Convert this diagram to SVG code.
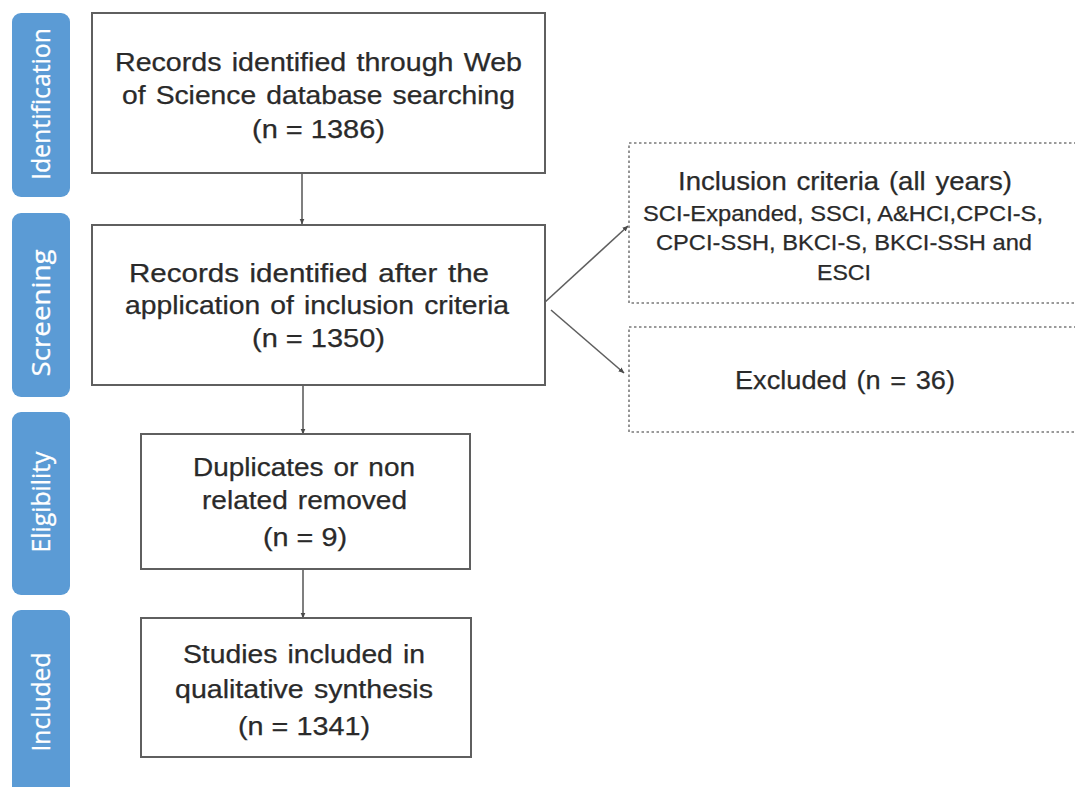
<svg xmlns="http://www.w3.org/2000/svg" width="1075" height="787" viewBox="0 0 1075 787">
  <defs>
    <style>
      .tab { fill: #5b9bd5; }
      .tab-label { font-family: "Open Sans", "Liberation Sans", sans-serif; font-size: 25px; fill: #ffffff; stroke: #ffffff; stroke-width: 0.3; text-anchor: middle; }
      .box { fill: #ffffff; stroke: #5f5f5f; stroke-width: 2; }
      .dbox { fill: #ffffff; stroke: #7a7a7a; stroke-width: 1.6; stroke-dasharray: 2.5 2.5; }
      .t { font-family: "Liberation Sans", Arial, sans-serif; font-size: 25px; fill: #2a2a2a; stroke: #2a2a2a; stroke-width: 0.25; }
      .tw { word-spacing: 2px; }
      .ts { font-size: 22px; }
      .link { fill: none; stroke: #5f5f5f; stroke-width: 1.6; }
    </style>
    <marker id="head" viewBox="0 0 6 6" refX="5.5" refY="3" markerWidth="6" markerHeight="6" markerUnits="userSpaceOnUse" orient="auto">
      <path d="M0,0.5 L6,3 L0,5.5 Z" fill="#4a4a4a"/>
    </marker>
  </defs>

  <rect width="1075" height="787" fill="#ffffff"/>

  <!-- phase tabs -->
  <g id="phase-identification">
    <rect class="tab" x="12" y="13" width="58" height="184" rx="9"/>
    <text class="tab-label" transform="translate(50,104) rotate(-90)" textLength="152" lengthAdjust="spacingAndGlyphs">Identification</text>
  </g>
  <g id="phase-screening">
    <rect class="tab" x="12" y="213" width="58" height="184" rx="9"/>
    <text class="tab-label" transform="translate(50,313) rotate(-90)" textLength="127" lengthAdjust="spacingAndGlyphs">Screening</text>
  </g>
  <g id="phase-eligibility">
    <rect class="tab" x="12" y="412" width="58" height="183" rx="9"/>
    <text class="tab-label" transform="translate(50,502) rotate(-90)" textLength="101" lengthAdjust="spacingAndGlyphs">Eligibility</text>
  </g>
  <g id="phase-included">
    <rect class="tab" x="12" y="610" width="58" height="200" rx="9"/>
    <text class="tab-label" transform="translate(50,702) rotate(-90)" textLength="99" lengthAdjust="spacingAndGlyphs">Included</text>
  </g>

  <!-- connectors -->
  <g id="connectors">
    <line class="link" x1="302" y1="173" x2="302" y2="224" marker-end="url(#head)"/>
    <line class="link" x1="303" y1="385" x2="303" y2="434" marker-end="url(#head)"/>
    <line class="link" x1="303" y1="569" x2="303" y2="618" marker-end="url(#head)"/>
    <line class="link" x1="544" y1="303" x2="628" y2="226" marker-end="url(#head)"/>
    <line class="link" x1="551" y1="310" x2="624" y2="373" marker-end="url(#head)"/>
  </g>

  <!-- main flow boxes -->
  <g id="records-identified">
    <rect class="box" x="92" y="13" width="453" height="160"/>
    <text class="t tw" x="115" y="71" textLength="407" lengthAdjust="spacingAndGlyphs">Records identified through Web</text>
    <text class="t tw" x="122" y="104" textLength="393" lengthAdjust="spacingAndGlyphs">of Science database searching</text>
    <text class="t" x="252" y="138" textLength="133" lengthAdjust="spacingAndGlyphs">(n = 1386)</text>
  </g>

  <g id="records-screened">
    <rect class="box" x="92" y="225" width="453" height="160"/>
    <text class="t tw" x="129" y="282" textLength="360" lengthAdjust="spacingAndGlyphs">Records identified after the</text>
    <text class="t tw" x="125" y="314" textLength="384" lengthAdjust="spacingAndGlyphs">application of inclusion criteria</text>
    <text class="t" x="252" y="347" textLength="133" lengthAdjust="spacingAndGlyphs">(n = 1350)</text>
  </g>

  <g id="duplicates-removed">
    <rect class="box" x="141" y="434" width="329" height="135"/>
    <text class="t tw" x="193" y="476" textLength="222" lengthAdjust="spacingAndGlyphs">Duplicates or non</text>
    <text class="t tw" x="202" y="509" textLength="205" lengthAdjust="spacingAndGlyphs">related removed</text>
    <text class="t" x="263" y="546" textLength="84" lengthAdjust="spacingAndGlyphs">(n = 9)</text>
  </g>

  <g id="studies-included">
    <rect class="box" x="141" y="618" width="330" height="139"/>
    <text class="t tw" x="183" y="663" textLength="242" lengthAdjust="spacingAndGlyphs">Studies included in</text>
    <text class="t tw" x="175" y="698" textLength="258" lengthAdjust="spacingAndGlyphs">qualitative synthesis</text>
    <text class="t" x="238" y="735" textLength="132" lengthAdjust="spacingAndGlyphs">(n = 1341)</text>
  </g>

  <!-- side boxes -->
  <g id="inclusion-criteria">
    <rect class="dbox" x="629" y="143" width="460" height="160"/>
    <text class="t tw" x="678" y="190" style="font-size:26px" textLength="334" lengthAdjust="spacingAndGlyphs">Inclusion criteria (all years)</text>
    <text class="t ts" x="643" y="221" textLength="400" lengthAdjust="spacingAndGlyphs">SCI-Expanded, SSCI, A&amp;HCI,CPCI-S,</text>
    <text class="t ts" x="656" y="250" textLength="376" lengthAdjust="spacingAndGlyphs">CPCI-SSH, BKCI-S, BKCI-SSH and</text>
    <text class="t ts" x="817" y="280" textLength="54" lengthAdjust="spacingAndGlyphs">ESCI</text>
  </g>

  <g id="excluded">
    <rect class="dbox" x="629" y="327" width="460" height="105"/>
    <text class="t tw" x="735" y="389" style="font-size:26px" textLength="220" lengthAdjust="spacingAndGlyphs">Excluded (n = 36)</text>
  </g>
</svg>
